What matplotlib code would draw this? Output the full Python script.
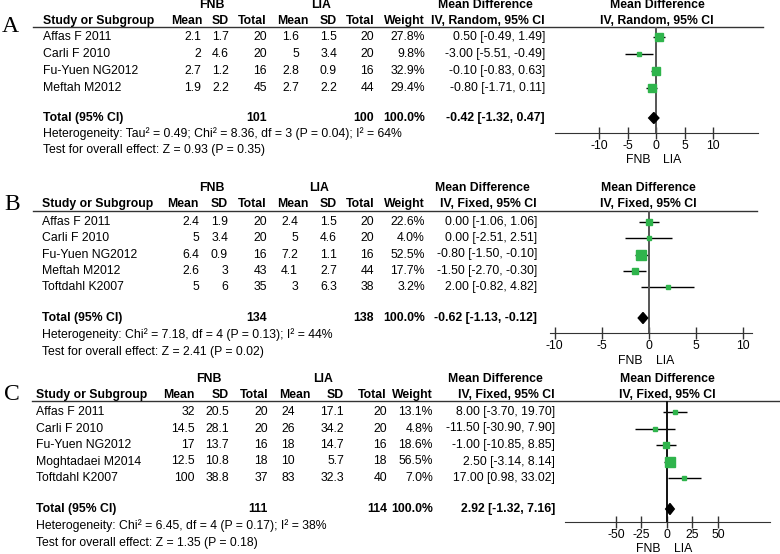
import numpy as np
import matplotlib
matplotlib.use("Agg")
import matplotlib.pyplot as plt

plt.rcParams['font.family'] = ['Liberation Sans', 'DejaVu Sans']

# ---------------- data ----------------
# Panel A
studiesA = ['Affas F 2011', 'Carli F 2010', 'Fu-Yuen NG2012', 'Meftah M2012']
fnbMeanA = [2.1, 2, 2.7, 1.9]
fnbSdA = [1.7, 4.6, 1.2, 2.2]
fnbNA = [20, 20, 16, 45]
liaMeanA = [1.6, 5, 2.8, 2.7]
liaSdA = [1.5, 3.4, 0.9, 2.2]
liaNA = [20, 20, 16, 44]
weightA = [27.8, 9.8, 32.9, 29.4]
mdA = [0.50, -3.00, -0.10, -0.80]
loA = [-0.49, -5.51, -0.83, -1.71]
hiA = [1.49, -0.49, 0.63, 0.11]
totalA = [101, 100]
pooledA = [-0.42, -1.32, 0.47]
hetA = 'Heterogeneity: Tau\u00b2 = 0.49; Chi\u00b2 = 8.36, df = 3 (P = 0.04); I\u00b2 = 64%'
testA = 'Test for overall effect: Z = 0.93 (P = 0.35)'
ticksA = [-10, -5, 0, 5, 10]

# Panel B
studiesB = ['Affas F 2011', 'Carli F 2010', 'Fu-Yuen NG2012', 'Meftah M2012', 'Toftdahl K2007']
fnbMeanB = [2.4, 5, 6.4, 2.6, 5]
fnbSdB = [1.9, 3.4, 0.9, 3, 6]
fnbNB = [20, 20, 16, 43, 35]
liaMeanB = [2.4, 5, 7.2, 4.1, 3]
liaSdB = [1.5, 4.6, 1.1, 2.7, 6.3]
liaNB = [20, 20, 16, 44, 38]
weightB = [22.6, 4.0, 52.5, 17.7, 3.2]
mdB = [0.00, 0.00, -0.80, -1.50, 2.00]
loB = [-1.06, -2.51, -1.50, -2.70, -0.82]
hiB = [1.06, 2.51, -0.10, -0.30, 4.82]
totalB = [134, 138]
pooledB = [-0.62, -1.13, -0.12]
hetB = 'Heterogeneity: Chi\u00b2 = 7.18, df = 4 (P = 0.13); I\u00b2 = 44%'
testB = 'Test for overall effect: Z = 2.41 (P = 0.02)'
ticksB = [-10, -5, 0, 5, 10]

# Panel C
studiesC = ['Affas F 2011', 'Carli F 2010', 'Fu-Yuen NG2012', 'Moghtadaei M2014', 'Toftdahl K2007']
fnbMeanC = [32, 14.5, 17, 12.5, 100]
fnbSdC = [20.5, 28.1, 13.7, 10.8, 38.8]
fnbNC = [20, 20, 16, 18, 37]
liaMeanC = [24, 26, 18, 10, 83]
liaSdC = [17.1, 34.2, 14.7, 5.7, 32.3]
liaNC = [20, 20, 16, 18, 40]
weightC = [13.1, 4.8, 18.6, 56.5, 7.0]
mdC = [8.00, -11.50, -1.00, 2.50, 17.00]
loC = [-3.70, -30.90, -10.85, -3.14, 0.98]
hiC = [19.70, 7.90, 8.85, 8.14, 33.02]
totalC = [111, 114]
pooledC = [2.92, -1.32, 7.16]
hetC = 'Heterogeneity: Chi\u00b2 = 6.45, df = 4 (P = 0.17); I\u00b2 = 38%'
testC = 'Test for overall effect: Z = 1.35 (P = 0.18)'
ticksC = [-50, -25, 0, 25, 50]

# ---------------- figure ----------------
W, H = 780, 554
fig = plt.figure(figsize=(7.8, 5.54), dpi=100)
bg = fig.add_axes([0, 0, 1, 1])
bg.set_xlim(0, W)
bg.set_ylim(H, 0)
bg.axis('off')

FS = 8.8
green = '#2fb44c'


def fmt(v):
    return '%g' % v


def panel(letter, method, studies, fm, fs, fn, lm, ls, ln, wt, md, lo, hi,
          tot, pooled, het, test, ticks, L):
    # L: layout in pixels
    y0, dy = L['row0'], L['step']
    ys = [y0 + i * dy for i in range(len(studies))]
    yt = L['total']
    c = L['cols']

    bg.text(L['letter'][0], L['letter'][1], letter, family='Liberation Serif',
            fontsize=17, ha='left', va='center')
    bg.text(c['fnb'], L['grp'], 'FNB', fontsize=FS, weight='bold', ha='center', va='center')
    bg.text(c['lia'], L['grp'], 'LIA', fontsize=FS, weight='bold', ha='center', va='center')
    bg.text(c['md_c'], L['grp'], 'Mean Difference', fontsize=FS, weight='bold', ha='center', va='center')
    bg.text(c['pl_c'], L['grp'], 'Mean Difference', fontsize=FS, weight='bold', ha='center', va='center')

    yh = L['head']
    bg.text(c['study'], yh, 'Study or Subgroup', fontsize=FS, weight='bold', va='center')
    hdr = [('Mean', c['fm_h']), ('SD', c['fs']), ('Total', c['fn']),
           ('Mean', c['lm_h']), ('SD', c['ls']), ('Total', c['ln']),
           ('Weight', c['wt'])]
    for t, x in hdr:
        bg.text(x, yh, t, fontsize=FS, weight='bold', ha='right', va='center')
    bg.text(c['ci'], yh, 'IV, %s, 95%% CI' % method, fontsize=FS, weight='bold', ha='right', va='center')
    bg.text(c['pl_c'], yh, 'IV, %s, 95%% CI' % method, fontsize=FS, weight='bold', ha='center', va='center')
    bg.plot([L['line'][0], L['line'][1]], [L['hline'], L['hline']], color='#333333', lw=1)

    for i, y in enumerate(ys):
        bg.text(c['study'], y, studies[i], fontsize=FS, va='center')
        vals = [(fmt(fm[i]), c['fm']), (fmt(fs[i]), c['fs']), (str(fn[i]), c['fn']),
                (fmt(lm[i]), c['lm']), (fmt(ls[i]), c['ls']), (str(ln[i]), c['ln']),
                ('%.1f%%' % wt[i], c['wt'])]
        for t, x in vals:
            bg.text(x, y, t, fontsize=FS, ha='right', va='center')
        bg.text(c['ci'], y, '%.2f [%.2f, %.2f]' % (md[i], lo[i], hi[i]),
                fontsize=FS, ha='right', va='center')

    bg.text(c['study'], yt, 'Total (95% CI)', fontsize=FS, weight='bold', va='center')
    bg.text(c['fn'], yt, str(tot[0]), fontsize=FS, weight='bold', ha='right', va='center')
    bg.text(c['ln'], yt, str(tot[1]), fontsize=FS, weight='bold', ha='right', va='center')
    bg.text(c['wt'], yt, '100.0%', fontsize=FS, weight='bold', ha='right', va='center')
    bg.text(c['ci'], yt, '%.2f [%.2f, %.2f]' % tuple(pooled), fontsize=FS,
            weight='bold', ha='right', va='center')
    bg.text(c['study'], L['het'], het, fontsize=FS, va='center')
    bg.text(c['study'], L['test'], test, fontsize=FS, va='center')

    # forest plot
    px0, px1 = L['axis']
    ya = L['axis_y']
    ax = fig.add_axes([px0 / W, 1 - ya / H, (px1 - px0) / W, (ya - L['hline']) / H])
    ax.set_xlim(L['xlim'])
    ax.set_ylim(ya, L['hline'])
    ax.patch.set_alpha(0)
    for s in ['left', 'right', 'top']:
        ax.spines[s].set_visible(False)
    ax.spines['bottom'].set_color('#333333')
    ax.set_yticks([])
    ax.set_xticks(ticks)
    ax.set_xticklabels([str(t) for t in ticks])
    ax.tick_params(axis='x', direction='inout', length=8, width=1, pad=1,
                   labelsize=FS, color='#333333')
    ax.hlines(ys, lo, hi, color='black', lw=1)
    ax.axvline(0, color=L['zero'], lw=1.4)
    for i, y in enumerate(ys):
        ax.plot(md[i], y, 's', ms=max(np.sqrt(wt[i]) * 0.98, 2.3), color=green, mec=green)
    m, a, b = pooled
    ax.fill([a, m, b, m], [yt, yt - 5.5, yt, yt + 5.5], color='black', zorder=5)
    ax.annotate('FNB', xy=(0, L['fl']), xytext=(-6, 0), textcoords='offset pixels',
                ha='right', va='center', fontsize=FS, annotation_clip=False)
    ax.annotate('LIA', xy=(0, L['fl']), xytext=(7, 0), textcoords='offset pixels',
                ha='left', va='center', fontsize=FS, annotation_clip=False)


colsA = dict(fnb=212, lia=321, md_c=485, pl_c=657, study=43, fm_h=202, fm=201, fs=229,
             fn=267, lm_h=308, lm=299, ls=337, ln=374, wt=425, ci=545)
colsB = dict(fnb=212, lia=319, md_c=482, pl_c=648, study=42, fm_h=199, fm=199, fs=228,
             fn=267, lm_h=308, lm=298, ls=337, ln=374, wt=425, ci=537)
colsC = dict(fnb=209, lia=323, md_c=495, pl_c=667, study=36, fm_h=195, fm=195, fs=229,
             fn=268, lm_h=310, lm=295, ls=344, ln=387, wt=433, ci=555)

LA = dict(letter=(2, 26), grp=5, head=21, hline=27, line=(33, 763), row0=37, step=17,
          total=118, het=134, test=150, axis=(555, 758), axis_y=133, xlim=(-17.7, 17.8),
          zero='#555555', fl=160, cols=colsA)
LB = dict(letter=(4, 205), grp=188, head=204, hline=211, line=(33, 757), row0=222, step=16.25,
          total=318, het=335, test=352, axis=(550, 752), axis_y=333, xlim=(-10.5, 10.96),
          zero='#555555', fl=361, cols=colsB)
LC = dict(letter=(4, 395), grp=379, head=395, hline=401, line=(32, 780), row0=412, step=16.5,
          total=509, het=526, test=543, axis=(565, 770), axis_y=522, xlim=(-100, 101),
          zero='#111111', fl=549, cols=colsC)

panel('A', 'Random', studiesA, fnbMeanA, fnbSdA, fnbNA, liaMeanA, liaSdA, liaNA, weightA,
      mdA, loA, hiA, totalA, pooledA, hetA, testA, ticksA, LA)
panel('B', 'Fixed', studiesB, fnbMeanB, fnbSdB, fnbNB, liaMeanB, liaSdB, liaNB, weightB,
      mdB, loB, hiB, totalB, pooledB, hetB, testB, ticksB, LB)
panel('C', 'Fixed', studiesC, fnbMeanC, fnbSdC, fnbNC, liaMeanC, liaSdC, liaNC, weightC,
      mdC, loC, hiC, totalC, pooledC, hetC, testC, ticksC, LC)

fig.savefig('out.png', dpi=100)
